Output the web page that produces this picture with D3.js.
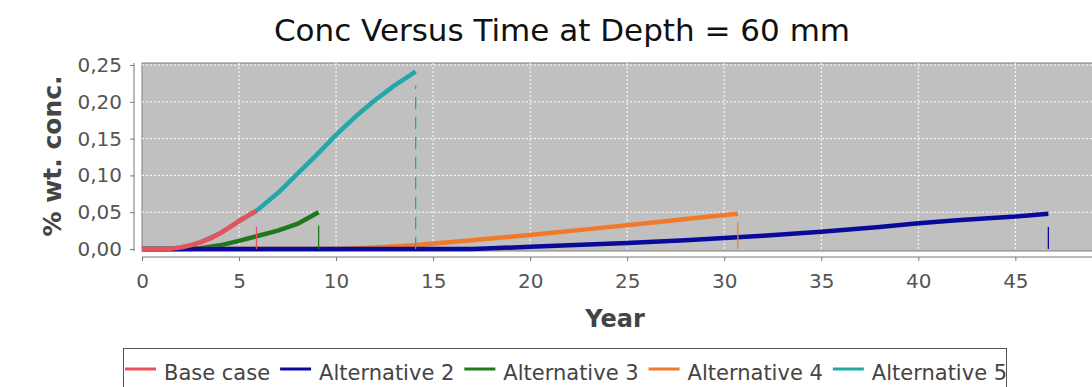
<!DOCTYPE html>
<html><head><meta charset="utf-8">
<script src="https://cdnjs.cloudflare.com/ajax/libs/d3/7.8.5/d3.min.js"></script>
<style>body{margin:0;background:#fff}svg{display:block}</style>
</head><body>
<svg id="c" width="1092" height="387"></svg>
<script>
const title = "Conc Versus Time at Depth = 60 mm";
const xLabel = "Year";
const yLabel = "% wt. conc.";
const xTicks = [0,5,10,15,20,25,30,35,40,45];
const yTicks = [0,0.05,0.10,0.15,0.20,0.25];
const seriesNames = ["Base case","Alternative 2","Alternative 3","Alternative 4","Alternative 5"];
const seriesColors = ["#e8525a","#0a0a9a","#1c7a1c","#f07a2a","#22a8a8"];
const baseCase = [[0,0],[1,0],[1.5,0.0005],[2,0.002],[2.5,0.005],[3,0.009],[3.5,0.014],[4,0.021],[4.5,0.029],[5,0.038],[5.5,0.046],[5.9,0.052]];
const alt2 = [[0,0],[17,0],[18,0.001],[20,0.003],[22,0.005],[25,0.008],[28,0.012],[30,0.015],[32,0.018],[35,0.0235],[38,0.030],[40,0.035],[42,0.039],[45,0.044],[46.7,0.048]];
const alt3 = [[0,0],[2.5,0],[3,0.001],[4,0.005],[5,0.011],[6,0.018],[7,0.025],[8,0.034],[9.1,0.05]];
const alt4 = [[0,0],[10,0],[12,0.002],[14,0.005],[17,0.012],[20,0.019],[23,0.027],[26,0.035],[28.5,0.042],[30.7,0.048]];
const alt5 = [[0,0],[1,0],[1.5,0.0005],[2,0.002],[2.5,0.005],[3,0.009],[4,0.021],[5,0.038],[5.9,0.052],[7,0.076],[8,0.102],[9,0.128],[10,0.155],[11,0.18],[12,0.202],[13,0.222],[14.1,0.241]];
const markerX = [5.9,46.7,9.1,30.7,14.1];
const markerTop = [0.03,0.03,0.032,0.036,0.222];

const svg = d3.select("#c");
const P = {l:142, r:1093, t:63, b:251};
const x = d3.scaleLinear().domain([0,49]).range([P.l,P.r]);
const y = d3.scaleLinear().domain([0,0.25]).range([249,65]);
const font = "DejaVu Sans, Verdana, sans-serif";

svg.append("text").attr("x",562).attr("y",41).attr("text-anchor","middle")
  .attr("font-family",font).attr("font-size",31).attr("fill","#111").text(title);

svg.append("rect").attr("x",P.l).attr("y",P.t).attr("width",P.r-P.l).attr("height",P.b-P.t)
  .attr("fill","#c0c0c0").attr("stroke","#808080");

const grid = svg.append("g").attr("stroke","#fff").attr("stroke-dasharray","2,2").attr("stroke-width",1);
grid.selectAll(".gx").data(xTicks.slice(1)).join("line")
  .attr("x1",d=>x(d)).attr("x2",d=>x(d)).attr("y1",P.t).attr("y2",P.b);
grid.selectAll(".gy").data(yTicks.slice(1)).join("line")
  .attr("x1",P.l).attr("x2",P.r).attr("y1",d=>y(d)).attr("y2",d=>y(d));

// axes
const fmt = d => d3.format(".2f")(d).replace(".",",");
const ax = svg.append("g").attr("transform","translate(0,257)")
  .call(d3.axisBottom(x).tickValues(xTicks).tickSize(4).tickPadding(4));
const ay = svg.append("g").attr("transform","translate(134,0)")
  .call(d3.axisLeft(y).tickValues(yTicks).tickFormat(fmt).tickSize(4).tickPadding(8));
ay.select(".domain").attr("d",`M-0,${P.t}V${P.b}`);
ax.select(".domain").attr("d",`M${P.l},0H${P.r}`);
[ax,ay].forEach(a=>{
  a.selectAll(".domain,line").attr("stroke","#777");
  a.selectAll("text").attr("font-family",font).attr("font-size",20).attr("fill","#555");
});
ax.selectAll("text").attr("y",17).attr("dy","0.71em");

svg.append("text").attr("x",615).attr("y",327).attr("text-anchor","middle")
  .attr("font-family",font).attr("font-size",24).attr("font-weight","bold").attr("fill","#444").text(xLabel);
svg.append("text").attr("transform","translate(61,156) rotate(-90)").attr("text-anchor","middle")
  .attr("font-family",font).attr("font-size",25).attr("font-weight","bold").attr("fill","#444").text(yLabel);

const clip = svg.append("clipPath").attr("id","pc").append("rect")
  .attr("x",P.l).attr("y",P.t-4).attr("width",P.r-P.l).attr("height",P.b-P.t+8);
const plot = svg.append("g").attr("clip-path","url(#pc)");
const line = d3.line().x(d=>x(d[0])).y(d=>y(d[1]));
const data = [baseCase,alt2,alt3,alt4,alt5];
const order = [4,2,3,1,0];
order.forEach(i=>{
  plot.append("path").datum(data[i]).attr("d",line).attr("fill","none")
    .attr("stroke",seriesColors[i]).attr("stroke-width",4.5).attr("stroke-linejoin","round");
});
markerX.forEach((m,i)=>{
  plot.append("line").attr("x1",x(m)).attr("x2",x(m)).attr("y1",y(0)).attr("y2",y(markerTop[i]))
    .attr("stroke",seriesColors[i]).attr("stroke-width",1.3)
    .attr("stroke-dasharray", i===4 ? "12,8" : null);
});

// legend
const lg = svg.append("g");
lg.append("rect").attr("x",123.5).attr("y",348.5).attr("width",883).attr("height",50)
  .attr("fill","#fff").attr("stroke","#555");
let cx = 125;
seriesNames.forEach((n,i)=>{
  lg.append("line").attr("x1",cx).attr("x2",cx+31).attr("y1",369).attr("y2",369)
    .attr("stroke",seriesColors[i]).attr("stroke-width",3);
  const t = lg.append("text").attr("x",cx+39).attr("y",380).attr("font-family",font)
    .attr("font-size",21).attr("fill","#444").text(n);
  cx += 39 + t.node().getComputedTextLength() + 10;
});
</script>
</body></html>
